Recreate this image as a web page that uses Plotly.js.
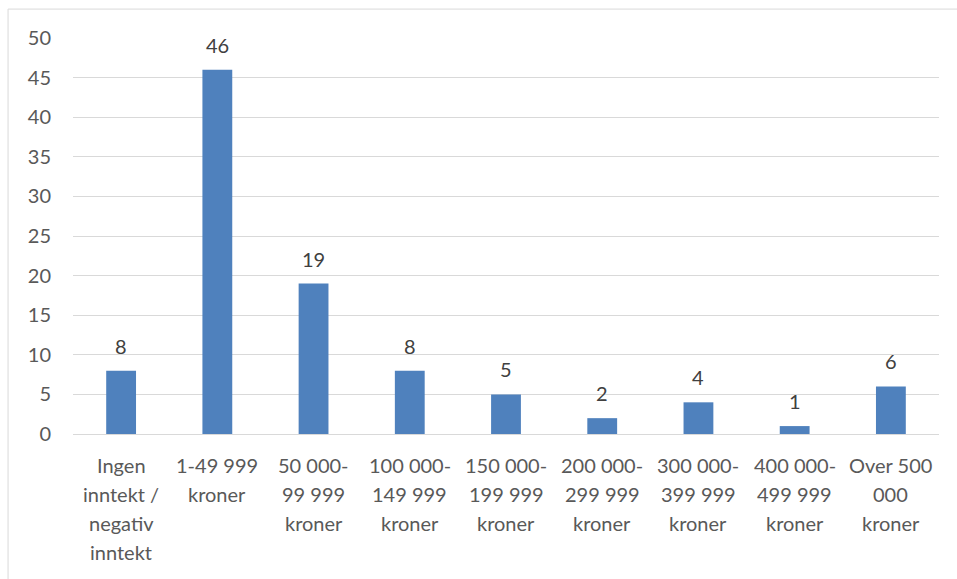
<!DOCTYPE html>
<html>
<head>
<meta charset="utf-8">
<script src="https://cdn.plot.ly/plotly-3.0.1.min.js"></script>
<style>html,body{margin:0;padding:0;background:#fff;}#chart{width:957px;height:579px;}</style>
</head>
<body>
<div id="chart"></div>
<script>
const categories = [
  "Ingen<br>inntekt /<br>negativ<br>inntekt",
  "1-49 999<br>kroner",
  "50 000-<br>99 999<br>kroner",
  "100 000-<br>149 999<br>kroner",
  "150 000-<br>199 999<br>kroner",
  "200 000-<br>299 999<br>kroner",
  "300 000-<br>399 999<br>kroner",
  "400 000-<br>499 999<br>kroner",
  "Over 500<br>000<br>kroner"
];
const values = [8, 46, 19, 8, 5, 2, 4, 1, 6];
const yTicks = [0, 5, 10, 15, 20, 25, 30, 35, 40, 45, 50];

const FONT = "Lato, 'Open Sans', sans-serif";
const FS = 20;

const annotations = [];
categories.forEach((c, ci) => {
  c.split("<br>").forEach((line, li) => {
    annotations.push({
      x: ci, y: 0, xref: "x", yref: "y",
      text: line, showarrow: false,
      xanchor: "center", yanchor: "top",
      yshift: -17 - li * 29,
      font: {family: FONT, size: FS, color: "#595959"}
    });
  });
});
values.forEach((v, i) => {
  annotations.push({
    x: i, y: v, xref: "x", yref: "y",
    text: String(v), showarrow: false,
    xanchor: "center", yanchor: "bottom",
    yshift: 11,
    font: {family: FONT, size: FS, color: "#404040"}
  });
});

const trace = {
  type: "bar",
  x: categories.map((_, i) => i),
  y: values,
  marker: {color: "#4F81BD"},
  cliponaxis: false,
  hoverinfo: "none"
};

const layout = {
  width: 957, height: 579,
  margin: {l: 73, r: 18, t: 38, b: 145},
  paper_bgcolor: "#ffffff",
  plot_bgcolor: "#ffffff",
  bargap: 0.69,
  showlegend: false,
  xaxis: {
    range: [-0.5, 8.5],
    showticklabels: false,
    showgrid: false,
    zeroline: false,
    showline: false,
    ticks: ""
  },
  yaxis: {
    range: [0, 50],
    tickvals: yTicks,
    ticktext: yTicks.map(String),
    showgrid: true,
    gridcolor: "#D9D9D9",
    gridwidth: 1,
    zeroline: true,
    zerolinecolor: "#D9D9D9",
    zerolinewidth: 1,
    showline: false,
    ticks: "",
    ticklabelstandoff: 21,
    tickfont: {family: FONT, size: FS, color: "#595959"}
  },
  annotations: annotations,
  shapes: [{
    type: "rect", xref: "paper", yref: "paper",
    x0: -0.075, x1: 1.2, y0: -0.5, y1: 1.073,
    line: {color: "#D9D9D9", width: 1},
    fillcolor: "rgba(0,0,0,0)",
    layer: "below"
  }]
};

Plotly.newPlot("chart", [trace], layout, {displayModeBar: false, staticPlot: true});
</script>
</body>
</html>
